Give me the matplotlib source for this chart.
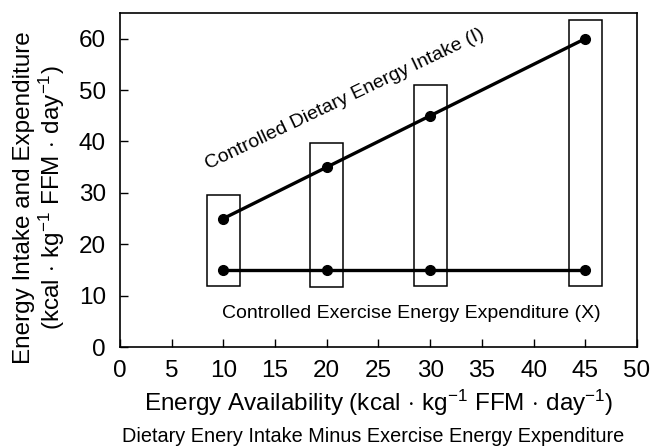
import matplotlib
matplotlib.use("Agg")
import matplotlib.pyplot as plt
from matplotlib.patches import Rectangle

plt.rcParams['font.family'] = ['Liberation Sans', 'DejaVu Sans']
plt.rcParams['mathtext.fontset'] = 'custom'
plt.rcParams['mathtext.rm'] = 'Liberation Sans'
plt.rcParams['mathtext.it'] = 'Liberation Sans'

# Data
energy_availability = [10, 20, 30, 45]
dietary_intake = [25, 35, 45, 60]
exercise_expenditure = [15, 15, 15, 15]
box_bottoms = [11.8, 11.7, 11.9, 11.95]
box_tops = [29.5, 39.6, 50.9, 63.6]
box_halfwidth = 1.6
x_ticks = [0, 5, 10, 15, 20, 25, 30, 35, 40, 45, 50]
y_ticks = [0, 10, 20, 30, 40, 50, 60]

fig = plt.figure(figsize=(6.52, 4.47), dpi=100)
ax = fig.add_axes([0.184, 0.2237, 0.793, 0.7473])

for x, b, t in zip(energy_availability, box_bottoms, box_tops):
    ax.add_patch(Rectangle((x - box_halfwidth, b), 2 * box_halfwidth, t - b,
                           fill=False, edgecolor='black', linewidth=1.1, zorder=2))

ax.plot(energy_availability, dietary_intake, color='black', linewidth=2.4,
        marker='o', markersize=7, zorder=3)
ax.plot(energy_availability, exercise_expenditure, color='black', linewidth=2.4,
        marker='o', markersize=7, zorder=3)

ax.set_xlim(0, 50)
ax.set_ylim(0, 65)
ax.set_xticks(x_ticks)
ax.set_yticks(y_ticks)
ax.tick_params(direction='in', length=6, width=1, labelsize=17.5)
ax.tick_params(axis='x', pad=9.5)
ax.tick_params(axis='y', pad=10)
for s in ax.spines.values():
    s.set_linewidth(1.2)

ax.text(21.7, 48.3, 'Controlled Dietary Energy Intake (I)', rotation=25.5,
        rotation_mode='anchor', ha='center', va='center', fontsize=14)
ax.text(28.15, 6.6, 'Controlled Exercise Energy Expenditure (X)',
        ha='center', va='center', fontsize=14)

unit = r'(kcal$\,\cdot\,$kg$^{-1}$ FFM$\,\cdot\,$day$^{-1}$)'
ax.set_xlabel('Energy Availability ' + unit, fontsize=17.5, labelpad=4)
ax.set_ylabel('Energy Intake and Expenditure\n' + unit,
              fontsize=17.5, linespacing=1.05)
ax.yaxis.set_label_coords(-0.103, 0.446)
fig.text(0.573, 1 - 442 / 447, 'Dietary Enery Intake Minus Exercise Energy Expenditure',
         ha='center', va='baseline', fontsize=14.3)

fig.savefig('out.png', dpi=100)
